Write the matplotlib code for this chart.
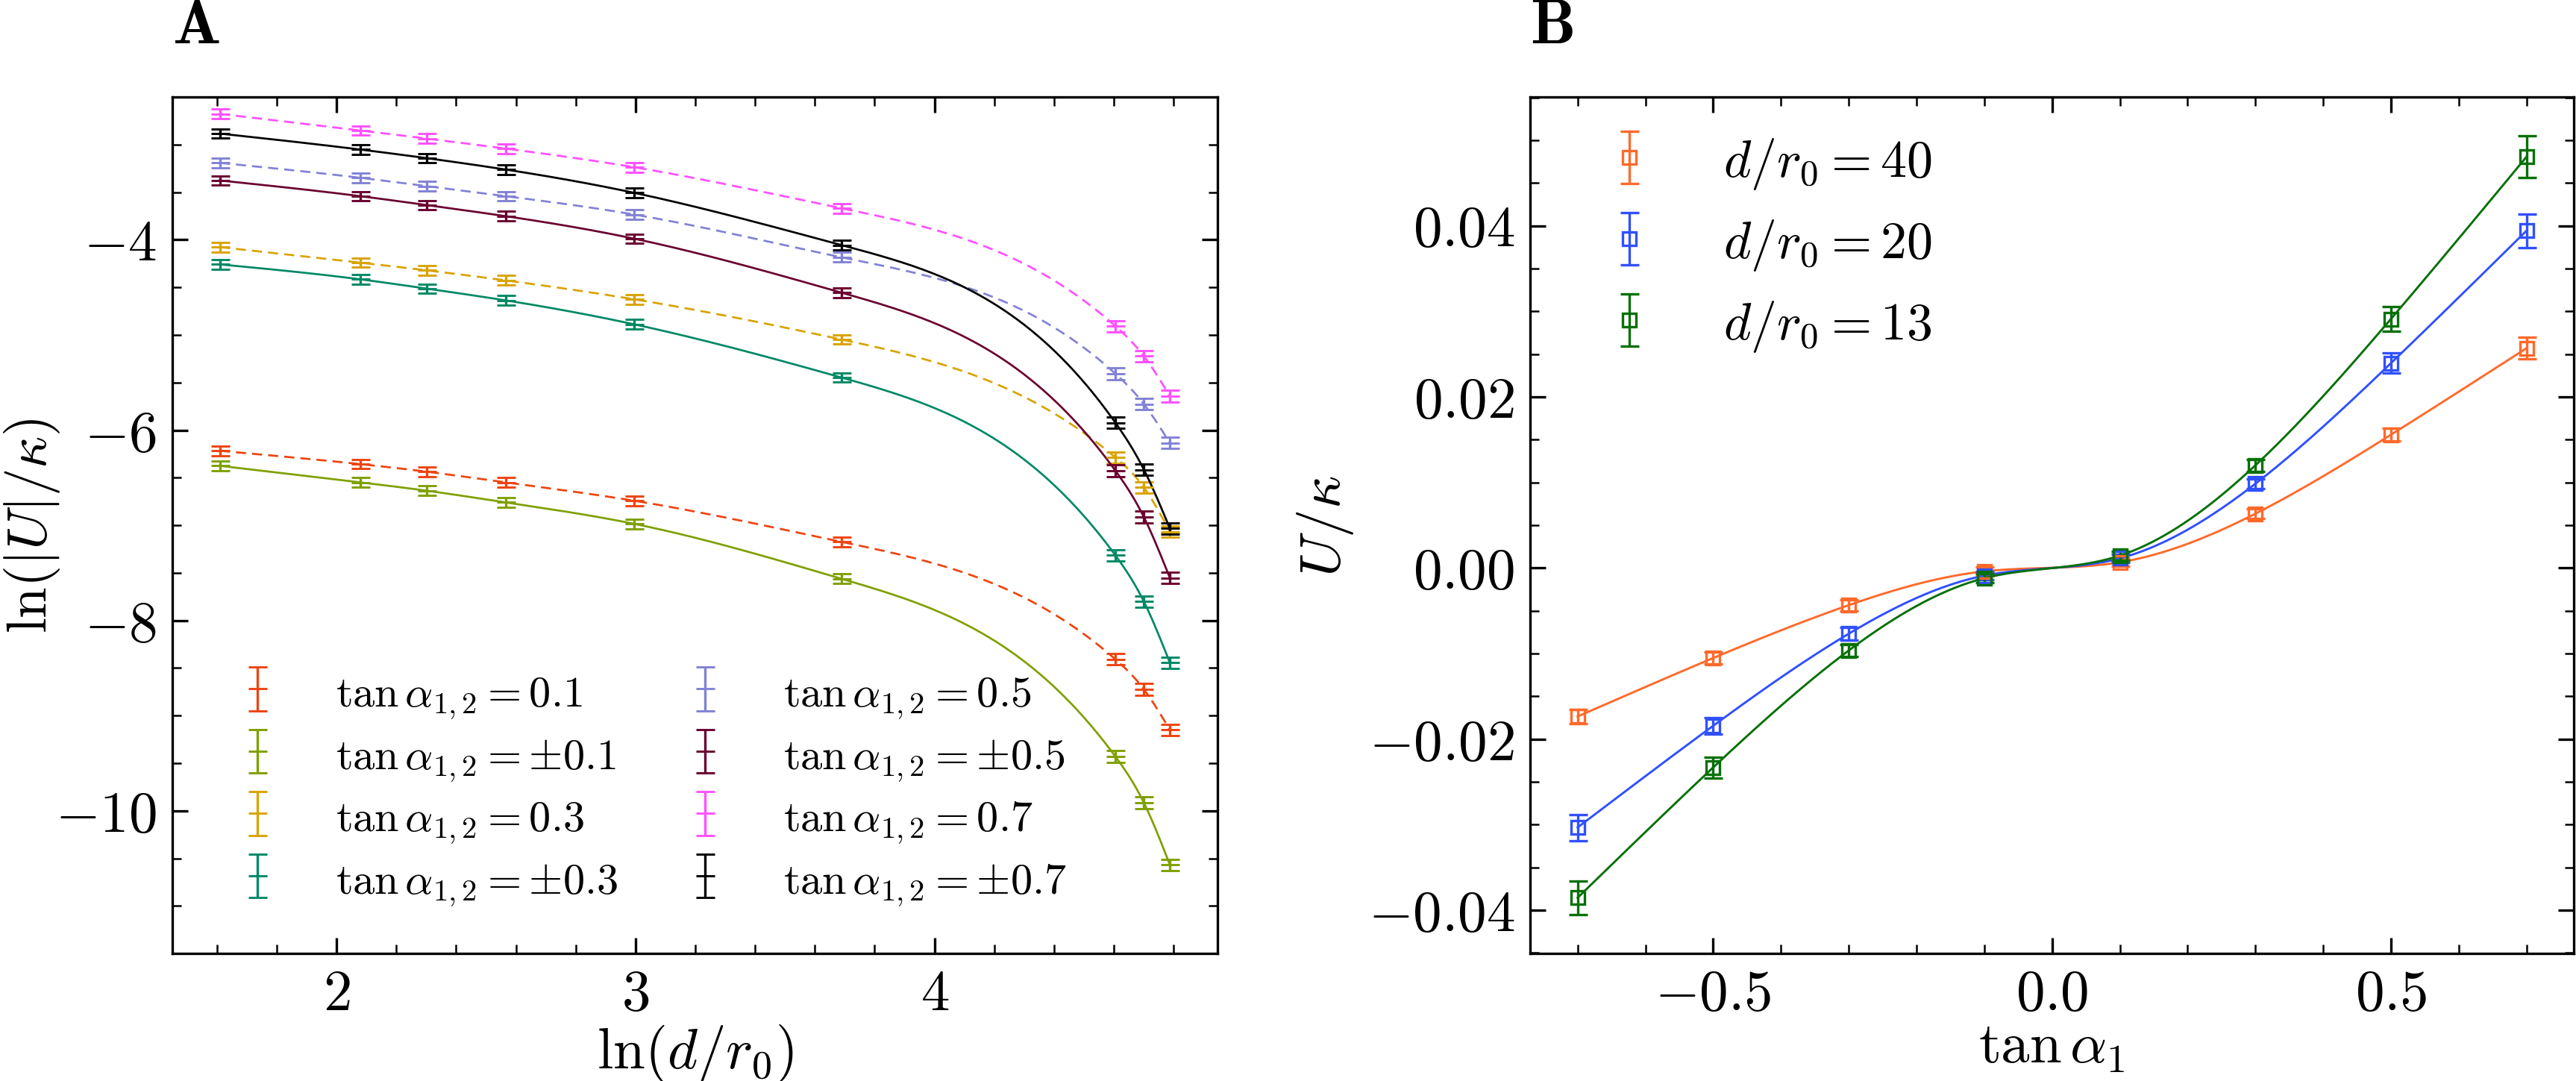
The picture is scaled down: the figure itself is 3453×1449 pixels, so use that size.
import numpy as np
import matplotlib
matplotlib.use("Agg")
import matplotlib.pyplot as plt
from matplotlib.ticker import MultipleLocator

plt.rcParams['font.family'] = 'serif'
plt.rcParams['font.serif'] = ['cmr10']
plt.rcParams['mathtext.fontset'] = 'cm'
plt.rcParams['axes.formatter.use_mathtext'] = True
plt.rcParams['axes.unicode_minus'] = True

# ---- panel A data: ln(|U|/kappa) vs ln(d/r0)
d_r0 = [5, 8, 10, 13, 20, 40, 100, 110, 120]
lnd = np.log(d_r0)

y_01 = [-6.217, -6.357, -6.437, -6.549, -6.742, -7.174, -8.409, -8.724, -9.151]
y_pm01 = [-6.375, -6.549, -6.637, -6.759, -6.985, -7.562, -9.430, -9.916, -10.569]
y_03 = [-4.076, -4.240, -4.321, -4.426, -4.625, -5.047, -6.287, -6.602, -7.066]
y_pm03 = [-4.258, -4.415, -4.513, -4.636, -4.888, -5.447, -7.316, -7.802, -8.445]
y_05 = [-3.191, -3.348, -3.436, -3.541, -3.734, -4.183, -5.407, -5.726, -6.135]
y_pm05 = [-3.376, -3.541, -3.635, -3.751, -3.988, -4.555, -6.426, -6.914, -7.554]
y_07 = [-2.676, -2.851, -2.936, -3.041, -3.237, -3.668, -4.907, -5.223, -5.643]
y_pm07 = [-2.883, -3.051, -3.142, -3.261, -3.506, -4.055, -5.922, -6.415, -7.034]
err_A = [0.05, 0.05, 0.05, 0.05, 0.05, 0.05, 0.06, 0.06, 0.06]

labels_A = [r'$\tan\alpha_{1,2} = 0.1$', r'$\tan\alpha_{1,2} = {\pm}0.1$',
            r'$\tan\alpha_{1,2} = 0.3$', r'$\tan\alpha_{1,2} = {\pm}0.3$',
            r'$\tan\alpha_{1,2} = 0.5$', r'$\tan\alpha_{1,2} = {\pm}0.5$',
            r'$\tan\alpha_{1,2} = 0.7$', r'$\tan\alpha_{1,2} = {\pm}0.7$']
series_A = [y_01, y_pm01, y_03, y_pm03, y_05, y_pm05, y_07, y_pm07]
colors_A = ['#ee4411', '#7fa000', '#d9a300', '#008866',
            '#8282d6', '#6a0030', '#ff50ff', '#000000']
dashed_A = [True, False, True, False, True, False, True, False]

# ---- panel B data: U/kappa vs tan(alpha_1)
tan_a1 = [-0.7, -0.5, -0.3, -0.1, 0.1, 0.3, 0.5, 0.7]
u_40 = [-0.01736, -0.01053, -0.00435, -0.0004, 0.00066, 0.00634, 0.01557, 0.02568]
u_20 = [-0.03033, -0.01845, -0.00769, -0.0009, 0.00112, 0.00984, 0.02393, 0.03941]
u_13 = [-0.03855, -0.02332, -0.00965, -0.0012, 0.00144, 0.01199, 0.02910, 0.04805]
e_40 = [0.00085, 0.0007, 0.00065, 0.0005, 0.0005, 0.0006, 0.00074, 0.00127]
e_20 = [0.00152, 0.00094, 0.0007, 0.0005, 0.0005, 0.0006, 0.00117, 0.00194]
e_13 = [0.00196, 0.00123, 0.00073, 0.0005, 0.0005, 0.0007, 0.00146, 0.00243]
labels_B = [r'$d/r_0 = 40$', r'$d/r_0 = 20$', r'$d/r_0 = 13$']
colors_B = ['#ff6a2b', '#3050ff', '#087008']


def smooth(x, y, n=300):
    # natural cubic spline through the points
    x = np.asarray(x, float)
    y = np.asarray(y, float)
    m = len(x)
    h = np.diff(x)
    A = np.zeros((m, m))
    r = np.zeros(m)
    A[0, 0] = A[-1, -1] = 1
    for i in range(1, m - 1):
        A[i, i - 1] = h[i - 1]
        A[i, i] = 2 * (h[i - 1] + h[i])
        A[i, i + 1] = h[i]
        r[i] = 6 * ((y[i + 1] - y[i]) / h[i] - (y[i] - y[i - 1]) / h[i - 1])
    M = np.linalg.solve(A, r)
    xs = np.linspace(x[0], x[-1], n)
    k = np.clip(np.searchsorted(x, xs) - 1, 0, m - 2)
    t = xs - x[k]
    hk = h[k]
    a = (M[k + 1] - M[k]) / (6 * hk)
    b = M[k] / 2
    c = (y[k + 1] - y[k]) / hk - hk * (2 * M[k] + M[k + 1]) / 6
    return xs, y[k] + c * t + b * t ** 2 + a * t ** 3


fig = plt.figure(figsize=(11.51, 4.833), dpi=300)
axA = fig.add_axes([0.0669, 0.1179, 0.4057, 0.7917])
axB = fig.add_axes([0.5940, 0.1179, 0.4052, 0.7917])

for yv, lab, col, dsh in zip(series_A, labels_A, colors_A, dashed_A):
    xs, ys = smooth(lnd, yv)
    ln, = axA.plot(xs, ys, color=col, lw=0.65)
    if dsh:
        ln.set_dashes((5, 3))
    axA.errorbar(lnd, yv, yerr=err_A, fmt='_', color=col, ms=6, mew=0.7,
                 elinewidth=0.8, capsize=3, capthick=0.8, label=lab)

axA.set_ylim(-11.5, -2.5)
axA.xaxis.set_major_locator(MultipleLocator(1))
axA.xaxis.set_minor_locator(MultipleLocator(0.2))
axA.yaxis.set_major_locator(MultipleLocator(2))
axA.yaxis.set_minor_locator(MultipleLocator(0.5))
axA.set_xlabel(r'$\ln(d/r_0)$', fontsize=18.5, labelpad=0.5)
axA.set_ylabel(r'$\ln(|U|/\kappa)$', fontsize=18)
axA.yaxis.set_label_coords(-0.106, 0.5)
axA.legend(ncol=2, loc='upper left', bbox_to_anchor=(0.04, 0.329), frameon=False,
           fontsize=14, borderaxespad=0, borderpad=0, columnspacing=1.0,
           labelspacing=0.3, handleheight=1.0)

for yv, ev, lab, col in zip([u_40, u_20, u_13], [e_40, e_20, e_13], labels_B, colors_B):
    xs, ys = smooth(tan_a1, yv)
    axB.plot(xs, ys, color=col, lw=0.7)
    axB.errorbar(tan_a1, yv, yerr=ev, fmt='s', mfc='none', mec=col, color=col,
                 ms=4.3, mew=0.8, elinewidth=0.8, capsize=3, capthick=0.8, label=lab)

axB.xaxis.set_major_locator(MultipleLocator(0.5))
axB.xaxis.set_minor_locator(MultipleLocator(0.1))
axB.yaxis.set_major_locator(MultipleLocator(0.02))
axB.yaxis.set_minor_locator(MultipleLocator(0.005))
axB.set_xlabel(r'$\tan\alpha_1$', fontsize=18.5, labelpad=0.5)
axB.set_ylabel(r'$U/\kappa$', fontsize=18.5)
axB.legend(loc='upper left', bbox_to_anchor=(0.045, 0.955), frameon=False,
           fontsize=16.8, borderaxespad=0, borderpad=0)

for ax in (axA, axB):
    for s in ax.spines.values():
        s.set_linewidth(0.8)
    ax.tick_params(which='both', direction='in', top=True, right=True,
                   labelsize=18.5)
    ax.tick_params(which='major', length=5, width=0.8, pad=5)
    ax.tick_params(which='minor', length=2.8, width=0.6)

fig.text(231 / 3453, 1 - 58 / 1450, r'$\mathbf{A}$', fontsize=20.5, va='baseline')
fig.text(2051 / 3453, 1 - 58 / 1450, r'$\mathbf{B}$', fontsize=20.5, va='baseline')

fig.savefig('out.png', dpi=300)
